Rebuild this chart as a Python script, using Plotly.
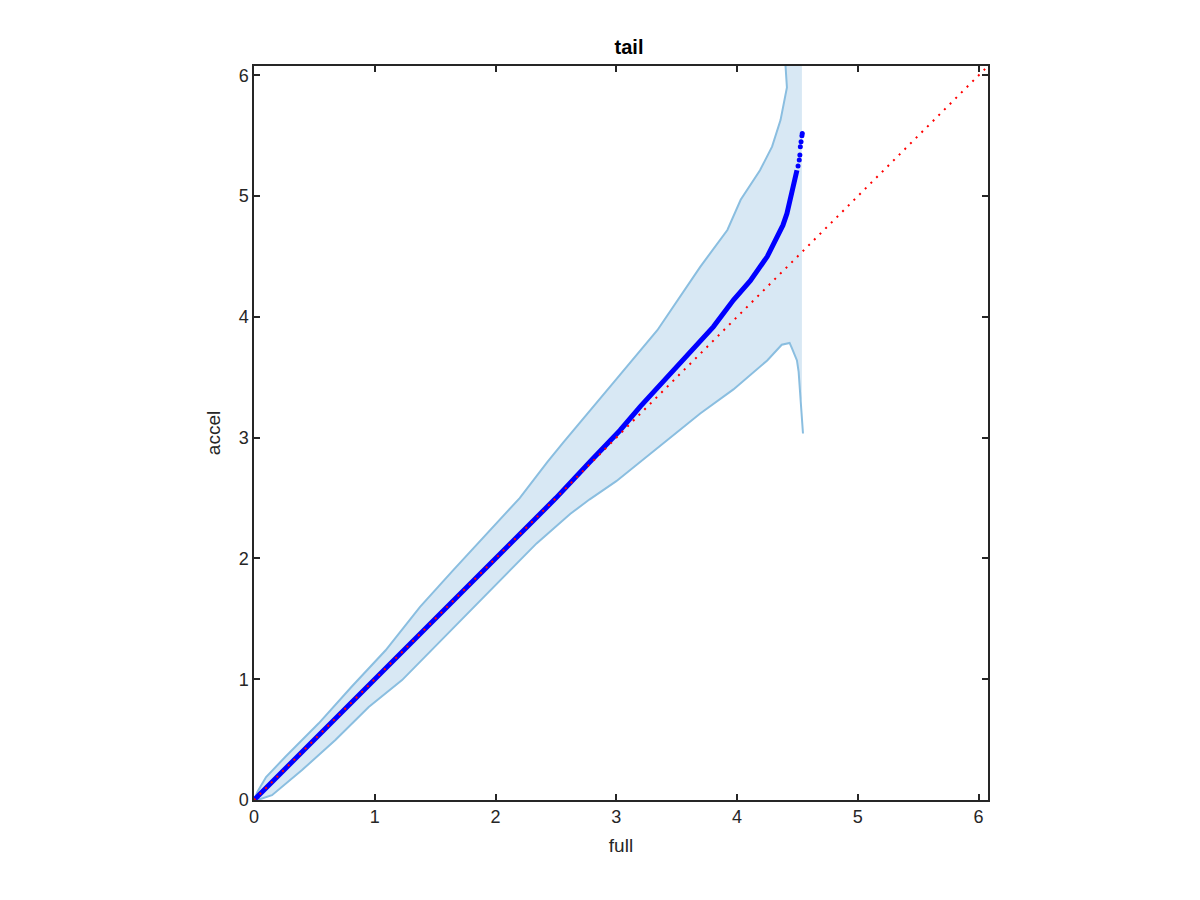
import plotly.graph_objects as go

# Upper edge of the confidence band
upper_x = [0, 0.03, 0.10, 0.26, 0.536, 0.81, 1.09, 1.375, 1.65, 1.93, 2.20, 2.43, 2.56, 2.98, 3.34,
           3.695, 3.92, 4.03, 4.19, 4.29, 4.36, 4.413, 4.40, 4.40]
upper_y = [0, 0.07, 0.19, 0.358, 0.635, 0.94, 1.24, 1.60, 1.904, 2.21, 2.50, 2.80, 2.96, 3.46, 3.89,
           4.415, 4.72, 4.97, 5.215, 5.41, 5.63, 5.90, 6.10, 6.40]

# Lower edge of the confidence band
lower_x = [0, 0.06, 0.149, 0.398, 0.674, 0.95, 1.226, 1.39, 1.54, 1.79, 2.07, 2.34, 2.62, 2.78, 3.0,
           3.2, 3.53, 3.695, 3.97, 4.25, 4.37, 4.435, 4.455, 4.496, 4.51, 4.524, 4.546]
lower_y = [0, 0.01, 0.04, 0.248, 0.497, 0.77, 0.993, 1.16, 1.31, 1.57, 1.85, 2.125, 2.37, 2.49, 2.64,
           2.80, 3.06, 3.20, 3.40, 3.64, 3.77, 3.785, 3.74, 3.64, 3.545, 3.35, 3.035]

# Band right edge (fill stops at last quantile)
band_end_x = 4.537
band_top_y = 6.40

# Quantile curve (dense part)
q_x = [0, 1.0, 2.0, 2.5, 2.8, 3.03, 3.2, 3.39, 3.6, 3.78, 3.805, 3.97, 4.11, 4.25, 4.33, 4.38, 4.413,
       4.455, 4.48, 4.496]
q_y = [0, 1.0, 2.0, 2.5, 2.82, 3.06, 3.26, 3.47, 3.69, 3.89, 3.92, 4.14, 4.30, 4.50, 4.66, 4.76, 4.857,
       5.02, 5.13, 5.215]
# Sparse tail points
tail_x = [4.505, 4.515, 4.520, 4.524, 4.530, 4.537, 4.540]
tail_y = [5.25, 5.30, 5.34, 5.41, 5.45, 5.50, 5.52]

ref_x = [0, 6.078]
ref_y = [0, 6.078]

axis_max = 6.078
ticks = [0, 1, 2, 3, 4, 5, 6]

FONT = "Liberation Sans, Arial, sans-serif"
DARK = "rgb(38,38,38)"

fig = go.Figure()

# filled band polygon
poly_x = upper_x + [band_end_x, band_end_x] + [x for x in reversed(lower_x) if x <= band_end_x]
poly_y = upper_y + [band_top_y, 3.3] + [y for x, y in zip(reversed(lower_x), reversed(lower_y)) if x <= band_end_x]
fig.add_trace(go.Scatter(x=poly_x, y=poly_y, fill="toself", fillcolor="rgb(216,232,244)",
                         line=dict(width=0), mode="lines", hoverinfo="skip", showlegend=False))
fig.add_trace(go.Scatter(x=upper_x, y=upper_y, mode="lines",
                         line=dict(color="rgb(138,190,224)", width=2), showlegend=False))
fig.add_trace(go.Scatter(x=lower_x, y=lower_y, mode="lines",
                         line=dict(color="rgb(138,190,224)", width=2), showlegend=False))
fig.add_trace(go.Scatter(x=q_x, y=q_y, mode="lines",
                         line=dict(color="rgb(0,0,255)", width=5), showlegend=False))
fig.add_trace(go.Scatter(x=tail_x, y=tail_y, mode="markers",
                         marker=dict(color="rgb(0,0,255)", size=5), showlegend=False))
fig.add_trace(go.Scatter(x=ref_x, y=ref_y, mode="lines",
                         line=dict(color="rgb(255,0,0)", width=2, dash="2px,6px"), showlegend=False))

axis_common = dict(
    range=[0, axis_max], tickvals=ticks, ticktext=[str(t) for t in ticks],
    showgrid=False, zeroline=False, showline=True, mirror="ticks",
    linecolor=DARK, linewidth=1.5,
    ticks="inside", ticklen=6, tickwidth=1.5, tickcolor=DARK,
    tickfont=dict(family=FONT, size=18, color=DARK),
)

fig.update_layout(
    width=1200, height=900,
    paper_bgcolor="white", plot_bgcolor="white",
    margin=dict(l=246, r=220, t=58, b=108),
    title=dict(text="<b>tail</b>", x=0.5175, xanchor="center", y=1 - 39 / 900, yanchor="middle",
               font=dict(family=FONT, size=20, color="black")),
    xaxis=dict(**axis_common, title=dict(text="full", standoff=12,
               font=dict(family=FONT, size=19, color=DARK))),
    yaxis=dict(**axis_common, title=dict(text="accel", standoff=13,
               font=dict(family=FONT, size=19, color=DARK))),
)

fig.write_html("out.html")
